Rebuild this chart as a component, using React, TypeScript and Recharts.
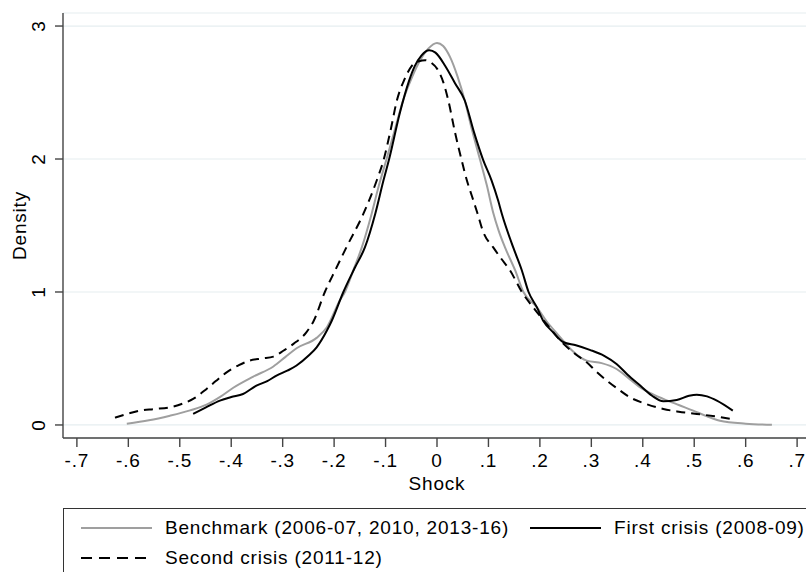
import { LineChart, Line, XAxis, YAxis, CartesianGrid, Label } from 'recharts';

// Kernel density estimates
const BENCH_X = [-0.603, -0.56, -0.519, -0.48, -0.448, -0.42, -0.396, -0.357, -0.318, -0.295, -0.273, -0.234, -0.214, -0.189, -0.179, -0.162, -0.146, -0.127, -0.113, -0.098, -0.082, -0.066, -0.048, -0.033, -0.017, 0.0, 0.012, 0.025, 0.04, 0.054, 0.068, 0.084, 0.097, 0.109, 0.12, 0.132, 0.152, 0.168, 0.194, 0.213, 0.235, 0.26, 0.28, 0.291, 0.32, 0.349, 0.37, 0.395, 0.42, 0.44, 0.47, 0.498, 0.525, 0.55, 0.6, 0.651];
const BENCH_Y = [0.01, 0.035, 0.07, 0.11, 0.153, 0.215, 0.28, 0.364, 0.44, 0.51, 0.577, 0.655, 0.735, 0.936, 1.0, 1.17, 1.337, 1.589, 1.8, 2.0, 2.22, 2.44, 2.62, 2.74, 2.83, 2.873, 2.85, 2.77, 2.62, 2.44, 2.22, 1.99, 1.8, 1.6, 1.46, 1.337, 1.162, 1.0, 0.886, 0.78, 0.68, 0.57, 0.505, 0.484, 0.465, 0.421, 0.36, 0.283, 0.23, 0.196, 0.15, 0.108, 0.065, 0.032, 0.01, 0.002];

const FIRST_X = [-0.474, -0.45, -0.422, -0.4, -0.377, -0.351, -0.33, -0.312, -0.29, -0.273, -0.25, -0.234, -0.214, -0.205, -0.182, -0.16, -0.14, -0.12, -0.104, -0.093, -0.072, -0.055, -0.043, -0.03, -0.015, -0.003, 0.016, 0.035, 0.054, 0.072, 0.09, 0.106, 0.119, 0.126, 0.148, 0.165, 0.178, 0.194, 0.207, 0.225, 0.246, 0.27, 0.297, 0.325, 0.349, 0.37, 0.395, 0.418, 0.44, 0.466, 0.49, 0.505, 0.525, 0.544, 0.575];
const FIRST_Y = [0.083, 0.13, 0.183, 0.21, 0.233, 0.296, 0.33, 0.371, 0.41, 0.447, 0.52, 0.584, 0.71, 0.78, 1.0, 1.18, 1.337, 1.589, 1.84, 2.0, 2.35, 2.58, 2.7, 2.78, 2.818, 2.8, 2.7, 2.57, 2.44, 2.2, 1.99, 1.84, 1.686, 1.589, 1.337, 1.162, 1.0, 0.886, 0.78, 0.7, 0.622, 0.6, 0.565, 0.52, 0.459, 0.38, 0.296, 0.22, 0.178, 0.188, 0.22, 0.228, 0.215, 0.183, 0.108];

const SECOND_X = [-0.626, -0.6, -0.578, -0.55, -0.519, -0.495, -0.474, -0.448, -0.43, -0.409, -0.385, -0.364, -0.34, -0.318, -0.298, -0.279, -0.254, -0.24, -0.218, -0.197, -0.176, -0.143, -0.117, -0.104, -0.09, -0.078, -0.063, -0.049, -0.035, -0.023, -0.01, 0.0, 0.012, 0.022, 0.035, 0.048, 0.058, 0.068, 0.078, 0.09, 0.109, 0.125, 0.142, 0.165, 0.19, 0.215, 0.246, 0.27, 0.291, 0.31, 0.33, 0.352, 0.375, 0.405, 0.44, 0.47, 0.505, 0.54, 0.573];
const SECOND_Y = [0.055, 0.085, 0.108, 0.12, 0.133, 0.16, 0.196, 0.271, 0.33, 0.396, 0.45, 0.484, 0.5, 0.514, 0.56, 0.61, 0.697, 0.78, 1.0, 1.17, 1.337, 1.589, 1.84, 1.99, 2.22, 2.44, 2.6, 2.7, 2.735, 2.743, 2.72, 2.68, 2.58, 2.44, 2.2, 1.99, 1.84, 1.72, 1.6, 1.45, 1.337, 1.25, 1.162, 1.0, 0.87, 0.75, 0.61, 0.53, 0.471, 0.4, 0.334, 0.27, 0.208, 0.16, 0.12, 0.1, 0.083, 0.065, 0.045];

const X_TICKS = [-0.7, -0.6, -0.5, -0.4, -0.3, -0.2, -0.1, 0, 0.1, 0.2, 0.3, 0.4, 0.5, 0.6, 0.7];
const Y_TICKS = [0, 1, 2, 3];

const SERIES_NAMES = ['Benchmark (2006-07, 2010, 2013-16)', 'First crisis (2008-09)', 'Second crisis (2011-12)'];

const toPoints = (xs: number[], ys: number[]) => xs.map((x, i) => ({ x, y: ys[i] }));

const FONT = '"Liberation Sans", Arial, Helvetica, sans-serif';
const FS = 19;
const LS = 0.8;
const GREY = '#9f9f9f';
const AXIS = '#444';

const fmtX = (v: number) => {
  const s = (Math.round(v * 10) / 10).toString();
  return s.replace(/^(-?)0\./, '$1.');
};

const XTick = (props: any) => {
  const { x, y, payload } = props;
  return (
    <text x={x} y={y} dy={20} textAnchor="middle" fontFamily={FONT} fontSize={FS} letterSpacing={LS} fill="#000">
      {fmtX(payload.value)}
    </text>
  );
};

const YTick = (props: any) => {
  const { x, y, payload } = props;
  const bx = x - 10;
  return (
    <text x={bx} y={y} transform={`rotate(-90 ${bx} ${y})`} textAnchor="middle" fontFamily={FONT} fontSize={FS} letterSpacing={LS} fill="#000">
      {payload.value}
    </text>
  );
};

function LegendRow({ label, color, dash, top, left }: { label: string; color: string; dash?: string; top: number; left: number }) {
  return (
    <div style={{ position: 'absolute', top, left, display: 'flex', alignItems: 'center', height: 24, whiteSpace: 'nowrap' }}>
      <svg width={71} height={6} style={{ marginRight: 13 }}>
        <line x1={0} y1={3} x2={71} y2={3} stroke={color} strokeWidth={2} strokeDasharray={dash} />
      </svg>
      <span style={{ fontFamily: FONT, fontSize: FS, letterSpacing: LS, color: '#000', lineHeight: '24px' }}>{label}</span>
    </div>
  );
}

export default function App() {
  const bench = toPoints(BENCH_X, BENCH_Y);
  const first = toPoints(FIRST_X, FIRST_Y);
  const second = toPoints(SECOND_X, SECOND_Y);

  return (
    <div style={{ position: 'absolute', left: 0, top: 0, width: 806, height: 572, overflow: 'hidden', background: '#fff' }}>
      <LineChart width={811} height={572} margin={{ top: 13, right: 0, bottom: 0, left: 0 }}>
        <CartesianGrid vertical={false} stroke="#e6eef0" strokeWidth={1.2} />
        <XAxis
          type="number"
          dataKey="x"
          domain={[-0.727, 0.727]}
          ticks={X_TICKS}
          allowDataOverflow
          height={134}
          tickSize={9}
          tickMargin={0}
          tick={<XTick />}
          stroke={AXIS}
          strokeWidth={1.4}
          tickLine={{ stroke: AXIS, strokeWidth: 1.4 }}
        >
          <Label
            content={(p: any) => (
              <text x={p.viewBox.x + p.viewBox.width / 2} y={p.viewBox.y + 52} textAnchor="middle" fontFamily={FONT} fontSize={FS} letterSpacing={LS} fill="#000">
                Shock
              </text>
            )}
          />
        </XAxis>
        <YAxis
          type="number"
          domain={[-0.098, 3.098]}
          ticks={Y_TICKS}
          allowDataOverflow
          width={63}
          tickSize={8}
          tickMargin={0}
          tick={<YTick />}
          stroke={AXIS}
          strokeWidth={1.4}
          tickLine={{ stroke: AXIS, strokeWidth: 1.4 }}
        >
          <Label
            content={(p: any) => {
              const cy = p.viewBox.y + p.viewBox.height / 2;
              return (
                <text x={26} y={cy} transform={`rotate(-90 26 ${cy})`} textAnchor="middle" fontFamily={FONT} fontSize={FS} letterSpacing={LS} fill="#000">
                  Density
                </text>
              );
            }}
          />
        </YAxis>
        <Line data={bench} dataKey="y" type="monotone" stroke={GREY} strokeWidth={2} dot={false} isAnimationActive={false} />
        <Line data={first} dataKey="y" type="monotone" stroke="#000" strokeWidth={2} dot={false} isAnimationActive={false} />
        <Line data={second} dataKey="y" type="monotone" stroke="#000" strokeWidth={2} strokeDasharray="9 6" dot={false} isAnimationActive={false} />
      </LineChart>
      <div style={{ position: 'absolute', left: 63, top: 508, width: 780, height: 90, border: '1px solid #333', boxSizing: 'border-box' }}>
        <LegendRow label={SERIES_NAMES[0]} color={GREY} top={7} left={17} />
        <LegendRow label={SERIES_NAMES[1]} color="#000" top={7} left={466} />
        <LegendRow label={SERIES_NAMES[2]} color="#000" dash="11 7" top={37} left={17} />
      </div>
    </div>
  );
}
